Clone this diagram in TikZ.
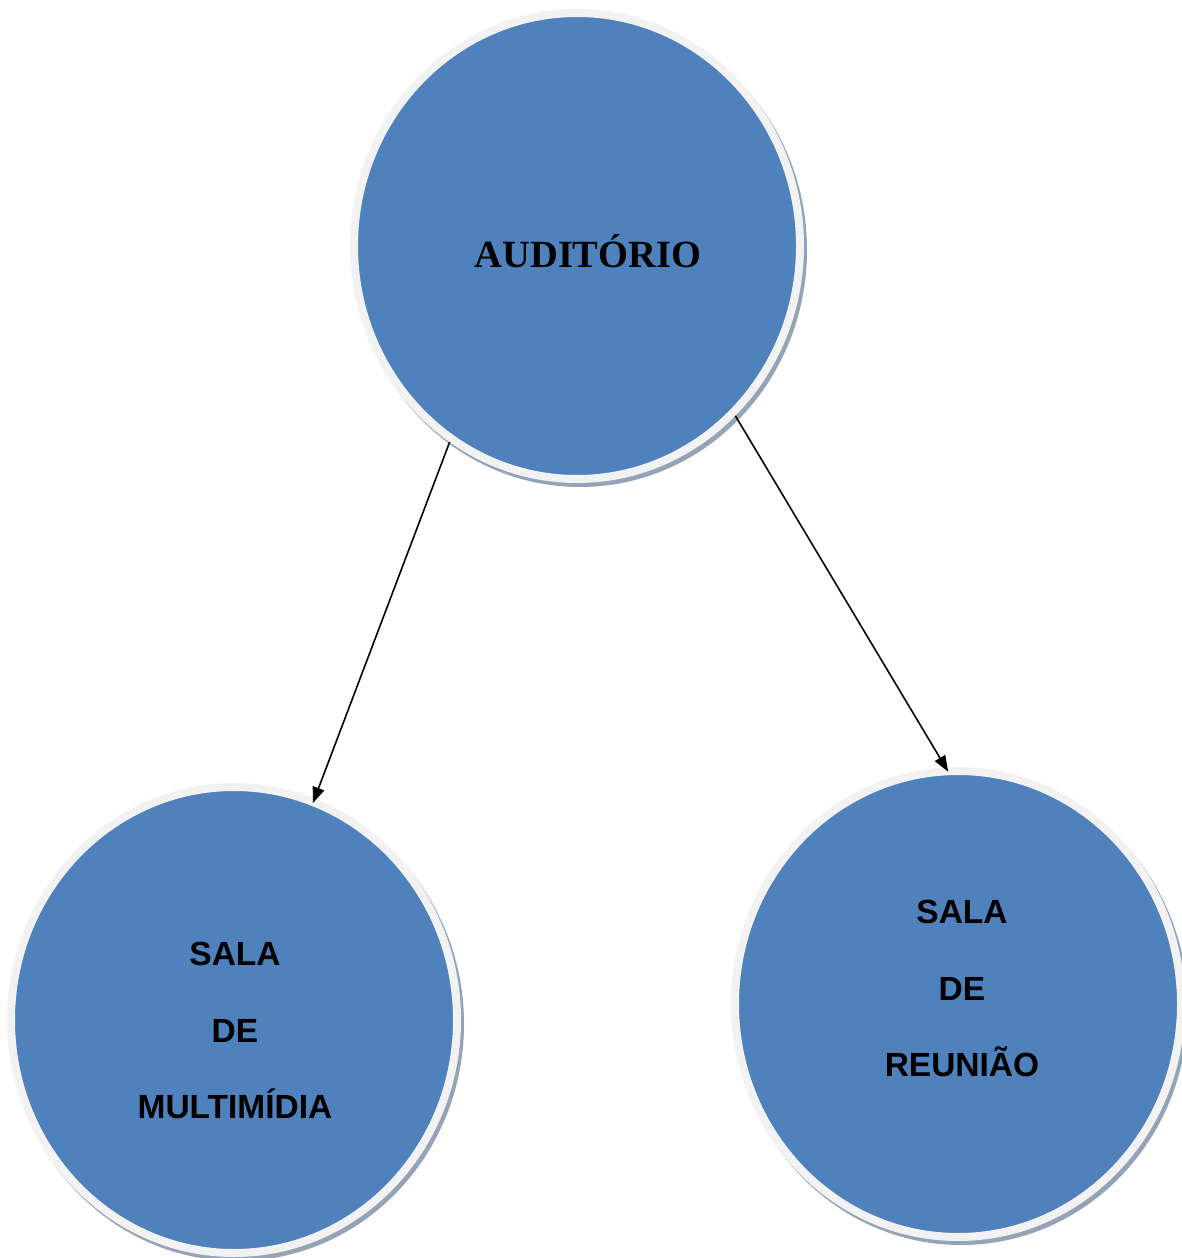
\documentclass[tikz,border=0pt]{standalone}
\usepackage{fontspec}
\setmainfont{Liberation Serif}
\newfontfamily\arialfont{Liberation Sans}
\usetikzlibrary{shapes.geometric,arrows.meta}
\definecolor{blueA}{HTML}{4F81BD}
\definecolor{ringC}{HTML}{F2F2F2}
\definecolor{shadowC}{HTML}{95A3B6}
\tikzset{
  room/.style={ellipse, fill=blueA, draw=ringC, line width=8pt,
    minimum width=446pt, minimum height=466pt, inner sep=0pt},
  roomshadow/.style={fill=shadowC},
  sanslbl/.style={anchor=base, inner sep=0pt, font=\arialfont\bfseries\fontsize{33.5}{40}\selectfont},
  seriflbl/.style={anchor=base, inner sep=0pt, font=\bfseries\fontsize{38.5}{44}\selectfont},
  link/.style={line width=1.6pt, -{Triangle[length=16pt,width=12pt]}, shorten >=-5pt}
}
\begin{document}
\begin{tikzpicture}[x=1pt,y=-1pt]
\useasboundingbox (0,0) rectangle (1182,1258);
\coordinate (ca) at (577,246);
\coordinate (cm) at (234,1020);
\coordinate (cr) at (958,1004);
% shadows
\fill[roomshadow] ([shift={(3,4)}]ca) ellipse [x radius=227pt, y radius=237pt];
\fill[roomshadow] ([shift={(3,4)}]cm) ellipse [x radius=227pt, y radius=237pt];
\fill[roomshadow] ([shift={(3,4)}]cr) ellipse [x radius=227pt, y radius=237pt];
% circles
\node[room] (aud) at (ca) {};
\node[room] (mult) at (cm) {};
\node[room] (reun) at (cr) {};
% labels
\node[seriflbl] (audt) at (588,267) {AUDITÓRIO};
\node[sanslbl] (m1) at (235,965) {SALA};
\node[sanslbl] (m2) at (235,1042) {DE};
\node[sanslbl] (m3) at (235,1118) {MULTIMÍDIA};
\node[sanslbl] (r1) at (962,923) {SALA};
\node[sanslbl] (r2) at (962,1000) {DE};
\node[sanslbl] (r3) at (962,1076) {REUNIÃO};
% connectors
\draw[link] (aud.237) -- (mult.70.5);
\draw[link] (aud.313) -- (reun.93.5);
\end{tikzpicture}
\end{document}
